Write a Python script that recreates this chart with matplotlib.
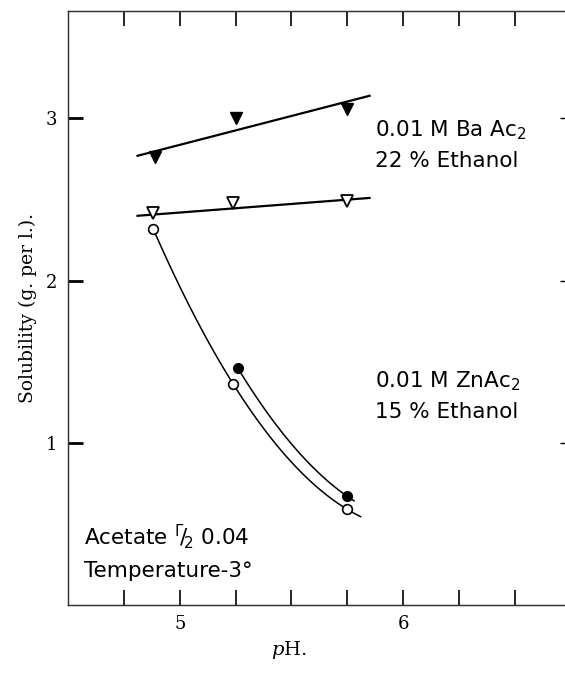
import numpy as np
import matplotlib.pyplot as plt

plt.rcParams['mathtext.fontset'] = 'custom'
plt.rcParams['mathtext.rm'] = 'DejaVu Sans'
plt.rcParams['mathtext.it'] = 'DejaVu Serif:italic'

# 0.01 M BaAc2, 22 % ethanol (filled and open triangles)
ba_filled_ph = [4.89, 5.25, 5.75]
ba_filled_sol = [2.76, 3.00, 3.06]
ba_open_ph = [4.88, 5.24, 5.75]
ba_open_sol = [2.42, 2.48, 2.49]
# hand drawn straight guide lines, end points
ba_filled_line_ph = [4.81, 5.85]
ba_filled_line_sol = [2.77, 3.14]
ba_open_line_ph = [4.81, 5.85]
ba_open_line_sol = [2.40, 2.51]

# 0.01 M ZnAc2, 15 % ethanol (open and filled circles)
zn_open_ph = [4.88, 5.24, 5.75]
zn_open_sol = [2.32, 1.36, 0.59]
zn_filled_ph = [5.26, 5.75]
zn_filled_sol = [1.46, 0.67]

x_ticks = [4.75, 5.0, 5.25, 5.5, 5.75, 6.0, 6.25, 6.5]
x_ticklabels = ['', '5', '', '', '', '6', '', '']
y_ticks = [1, 2, 3]

fig = plt.figure(figsize=(5.65, 6.73), dpi=100)
ax = fig.add_axes([0.121, 0.101, 0.8885, 0.882])
ax.set_xlim(4.5, 6.75)
ax.set_ylim(0, 3.66)

# straight lines for the barium series
ax.plot(ba_filled_line_ph, ba_filled_line_sol, color='black', lw=1.6)
ax.plot(ba_open_line_ph, ba_open_line_sol, color='black', lw=1.6)

# smooth curves for the zinc series: quadratic through the open points,
# same curvature through the two filled points
coef = np.polyfit(zn_open_ph, zn_open_sol, 2)
xs = np.linspace(zn_open_ph[0], 5.81, 120)
ax.plot(xs, np.polyval(coef, xs), color='black', lw=1.1, zorder=2)

c = coef[0]
x1, x2 = zn_filled_ph
r1 = zn_filled_sol[0] - c * x1 ** 2
r2 = zn_filled_sol[1] - c * x2 ** 2
b = (r2 - r1) / (x2 - x1)
a = r1 - b * x1
xf = np.linspace(x1, 5.78, 80)
ax.plot(xf, a + b * xf + c * xf ** 2, color='black', lw=1.1, zorder=2)

ax.plot(ba_filled_ph, ba_filled_sol, 'v', color='black', ms=8, zorder=3)
ax.plot(ba_open_ph, ba_open_sol, 'v', mfc='white', mec='black', mew=1.3, ms=8, zorder=3)
ax.plot(zn_open_ph, zn_open_sol, 'o', mfc='white', mec='black', mew=1.2, ms=7, zorder=3)
ax.plot(zn_filled_ph, zn_filled_sol, 'o', color='black', ms=7, zorder=3)

txt = dict(fontsize=15.5, family='DejaVu Sans', va='center', ha='left')
ax.text(5.873, 2.93, '0.01 M Ba Ac$_2$', **txt)
ax.text(5.873, 2.74, '22 % Ethanol', **txt)
ax.text(5.873, 1.38, '0.01 M ZnAc$_2$', **txt)
ax.text(5.873, 1.19, '15 % Ethanol', **txt)
ax.text(4.57, 0.42, r'Acetate $^{\Gamma}\!/\!_{2}$ 0.04', **txt)
ax.text(4.57, 0.21, 'Temperature-3°', **txt)

ax.set_xticks(x_ticks)
ax.set_xticklabels(x_ticklabels, family='DejaVu Serif', fontsize=13)
ax.set_yticks(y_ticks)
ax.set_yticklabels([str(v) for v in y_ticks], family='DejaVu Serif', fontsize=13)
ax.tick_params(axis='x', direction='in', length=11, width=1.2, top=True, pad=7)
ax.tick_params(axis='y', direction='in', length=11, width=2, right=False, pad=8)

ax_r = ax.twinx()
ax_r.set_ylim(ax.get_ylim())
ax_r.set_yticks(y_ticks)
ax_r.tick_params(axis='y', direction='in', length=7, width=1, labelright=False)

for a_ in (ax, ax_r):
    for s in a_.spines.values():
        s.set_linewidth(0.9)
        s.set_color('#333333')

ax.set_ylabel('Solubility (g. per l.).', family='DejaVu Serif', fontsize=13.5)
ax.yaxis.set_label_coords(-0.063, 0.5)
ax.set_xlabel('$p$H.', family='DejaVu Serif', fontsize=14)
ax.xaxis.set_label_coords(0.44, -0.058)

fig.savefig('out.png', dpi=100)
